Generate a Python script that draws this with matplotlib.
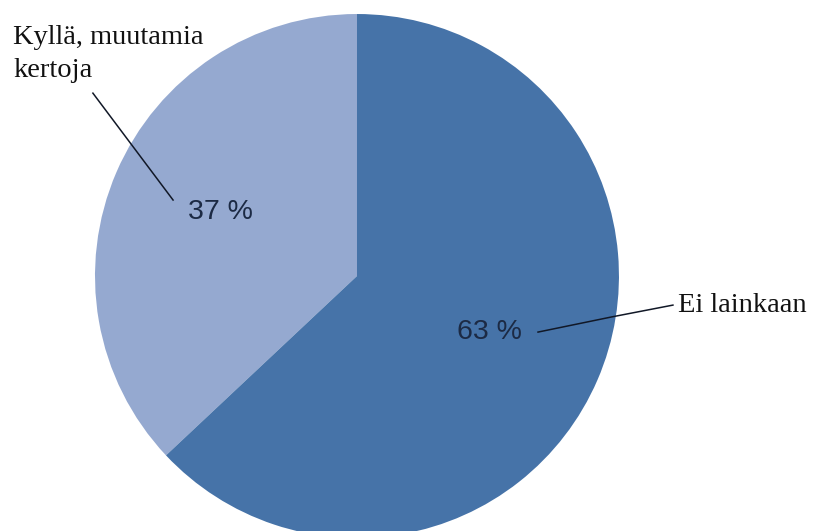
import matplotlib

matplotlib.use("Agg")

import matplotlib.pyplot as plt

# data
labels = ["Kyllä, muutamia\nkertoja", "Ei lainkaan"]
shares = [37, 63]
colors = ["#95A9D0", "#4673A8"]

# label placement (axes data units, pie radius = 1)
pct_pos = [(-0.523, 0.244), (0.504, -0.214)]
name_pos = [(-1.313, 0.958), (1.225, -0.137)]
leaders = [
    ([-1.008, -0.702], [0.698, 0.290]),
    ([0.691, 0.973, 1.206], [-0.214, -0.156, -0.111]),
]

fig = plt.figure(figsize=(8.14, 5.31), dpi=100)
ax = fig.add_axes([0.1167, -0.0132, 0.6437, 0.9868])

ax.pie(shares, colors=colors, startangle=90, counterclock=True,
       radius=1.0, wedgeprops={"linewidth": 0})
ax.set_xlim(-1, 1)
ax.set_ylim(-1, 1)
ax.set_aspect("auto")
ax.axis("off")

for share, (x, y) in zip(shares, pct_pos):
    ax.text(x, y, f"{share} %", ha="center", va="center",
            fontsize=20.5, family="Liberation Sans", color="#1C2A44")

ax.text(name_pos[0][0], name_pos[0][1], labels[0], ha="left", va="top",
        fontsize=20.5, family="Liberation Serif", color="#111111",
        linespacing=1.4, clip_on=False)
ax.text(name_pos[1][0], name_pos[1][1], labels[1], ha="left", va="baseline",
        fontsize=20.5, family="Liberation Serif", color="#111111",
        clip_on=False)

for xs, ys in leaders:
    ax.plot(xs, ys, color="#111827", lw=1.1, clip_on=False)

fig.savefig("out.png", dpi=100)
